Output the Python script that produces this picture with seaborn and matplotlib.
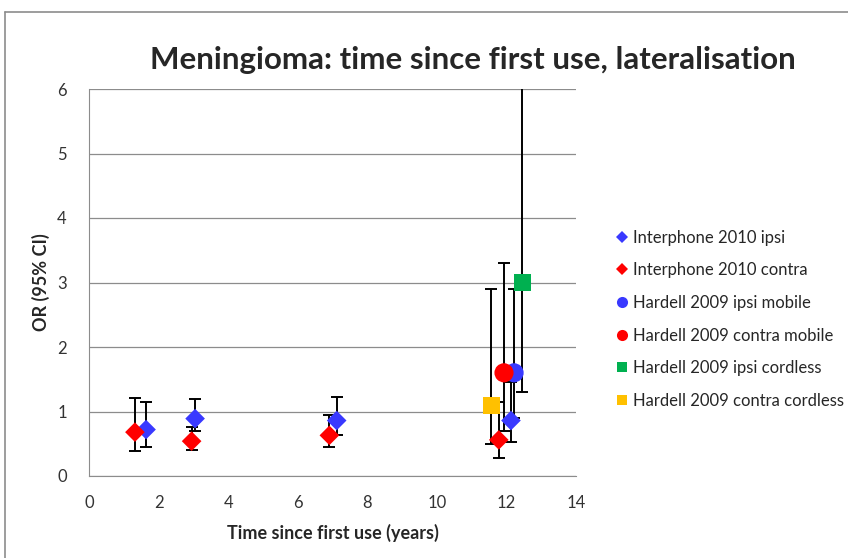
import pandas as pd
import matplotlib
matplotlib.use("Agg")
import matplotlib.pyplot as plt
import seaborn as sns
from matplotlib.lines import Line2D

# values
series_names = ["Interphone 2010 ipsi", "Interphone 2010 contra",
                "Hardell 2009 ipsi mobile", "Hardell 2009 contra mobile",
                "Hardell 2009 ipsi cordless", "Hardell 2009 contra cordless"]

ipsi_x = [1.64, 3.05, 7.12, 12.13]
ipsi_or = [0.72, 0.89, 0.86, 0.86]
ipsi_lo = [0.45, 0.69, 0.64, 0.52]
ipsi_hi = [1.15, 1.20, 1.22, 1.46]

contra_x = [1.32, 2.95, 6.91, 11.78]
contra_or = [0.68, 0.54, 0.63, 0.56]
contra_lo = [0.38, 0.40, 0.45, 0.28]
contra_hi = [1.21, 0.76, 0.95, 1.15]

hardell_x = [12.22, 11.93, 12.46, 11.57]
hardell_or = [1.6, 1.6, 3.0, 1.1]
hardell_lo = [0.9, 0.7, 1.3, 0.5]
hardell_hi = [2.9, 3.3, 7.0, 2.9]

colors = ["#3939FF", "#FF0000", "#3939FF", "#FF0000", "#00B050", "#FFC000"]
markers = ["D", "D", "o", "o", "s", "s"]
sizes = [100, 100, 190, 190, 150, 150]

rows = []
for i in range(4):
    rows.append((series_names[0], ipsi_x[i], ipsi_or[i], ipsi_lo[i], ipsi_hi[i]))
    rows.append((series_names[1], contra_x[i], contra_or[i], contra_lo[i], contra_hi[i]))
for i in range(4):
    rows.append((series_names[2 + i], hardell_x[i], hardell_or[i], hardell_lo[i], hardell_hi[i]))
df = pd.DataFrame(rows, columns=["series", "years", "OR", "lo", "hi"])

sns.set_style("white")
plt.rcParams['font.family'] = ['Lato', 'DejaVu Sans']

fig = plt.figure(figsize=(8.48, 5.58), dpi=100)
ax = fig.add_axes([89/848, 1 - 476/558, (576-89)/848, (476-89)/558])

# error bars first, markers on top
ax.errorbar(df["years"], df["OR"], yerr=[df["OR"] - df["lo"], df["hi"] - df["OR"]],
            fmt="none", ecolor="black", elinewidth=1.4, capsize=4, capthick=1.4, zorder=2)

for name, col, mk, sz in zip(series_names, colors, markers, sizes):
    sub = df[df["series"] == name]
    sns.scatterplot(data=sub, x="years", y="OR", color=col, marker=mk, s=sz,
                    edgecolor="none", ax=ax, zorder=3, legend=False)

ax.set_xlim(0, 14)
ax.set_ylim(0, 6)
ax.set_xticks(range(0, 15, 2))
ax.set_yticks(range(0, 7))
ax.yaxis.grid(True, color="#8c8c8c", linewidth=0.9)
ax.set_axisbelow(True)
for s in ["top", "right"]:
    ax.spines[s].set_visible(False)
for s in ["left", "bottom"]:
    ax.spines[s].set_color("#8c8c8c")
ax.tick_params(axis="both", length=6, color="#8c8c8c", direction="out", labelsize=12, labelcolor="#333333")
ax.tick_params(axis="y", pad=10)
ax.tick_params(axis="x", pad=8)

ax.set_xlabel("Time since first use (years)", fontsize=13, fontweight="bold", labelpad=9)
ax.set_ylabel("OR (95% CI)", fontsize=13, fontweight="bold", labelpad=5)
fig.text(473/848, 1 - 60/558, "Meningioma: time since first use, lateralisation",
         ha="center", va="center", fontsize=22.5, fontweight="bold")

handles = [Line2D([], [], linestyle="none", marker=mk, color=col, markersize=ms, markeredgewidth=0)
           for col, mk, ms in zip(colors, markers,
                                  [6, 6, 8, 8, 7, 7])]
fig.legend(handles, series_names, loc="upper left", bbox_to_anchor=(610/848, 1 - 223/558),
           frameon=False, fontsize=12, handlelength=0.6, handletextpad=0.4,
           labelspacing=1.0, borderaxespad=0)

# grey frame of the chart area (only left and top visible)
fig.add_artist(Line2D([4.5/848, 4.5/848], [0, 1 - 11.5/558], transform=fig.transFigure,
                      color="#8c8c8c", linewidth=1.2))
fig.add_artist(Line2D([4.5/848, 1], [1 - 11.5/558, 1 - 11.5/558], transform=fig.transFigure,
                      color="#8c8c8c", linewidth=1.2))

fig.savefig("out.png", dpi=100)
